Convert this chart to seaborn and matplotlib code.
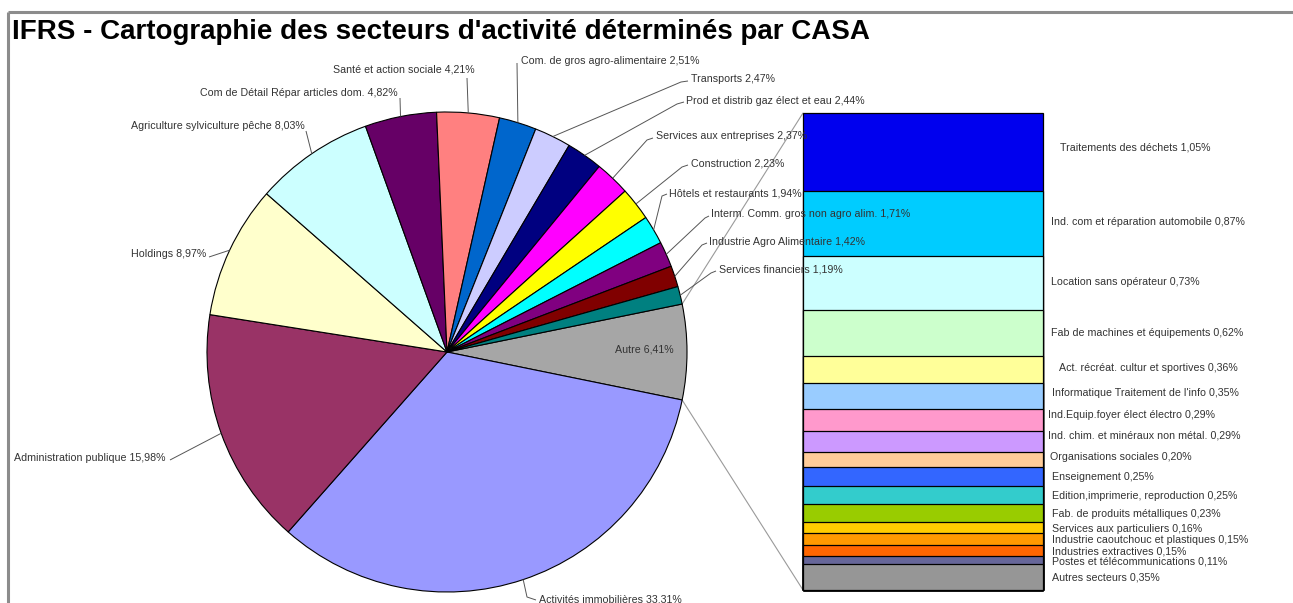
import matplotlib
matplotlib.use("Agg")
import numpy as np
import pandas as pd
import seaborn as sns
import matplotlib.pyplot as plt
from matplotlib.patches import ConnectionPatch

# ---------------- data ----------------
title = "IFRS - Cartographie des secteurs d'activité déterminés par CASA"

pie_sectors = ["Autre", "Activités immobilières", "Administration publique", "Holdings",
               "Agriculture sylviculture pêche", "Com de Détail Répar articles dom.",
               "Santé et action sociale", "Com. de gros agro-alimentaire", "Transports",
               "Prod et distrib gaz élect et eau", "Services aux entreprises", "Construction",
               "Hôtels et restaurants", "Interm. Comm. gros non agro alim.",
               "Industrie Agro Alimentaire", "Services financiers"]
pie_values = [6.41, 33.31, 15.98, 8.97, 8.03, 4.82, 4.21, 2.51, 2.47, 2.44, 2.37, 2.23,
              1.94, 1.71, 1.42, 1.19]
pie_colors = ["#A6A6A6", "#9999FF", "#993366", "#FFFFCC", "#CCFFFF", "#660066", "#FF8080",
              "#0066CC", "#CCCCFF", "#000080", "#FF00FF", "#FFFF00", "#00FFFF", "#800080",
              "#800000", "#008080"]

# detail bar (top to bottom)
bar_sectors = ["Traitements des déchets", "Ind. com et réparation automobile",
               "Location sans opérateur", "Fab de machines et équipements",
               "Act. récréat. cultur et sportives", "Informatique Traitement de l'info",
               "Ind.Equip.foyer élect électro", "Ind. chim. et minéraux non métal.",
               "Organisations sociales", "Enseignement", "Edition,imprimerie, reproduction",
               "Fab. de produits métalliques", "Services aux particuliers",
               "Industrie caoutchouc et plastiques", "Industries extractives",
               "Postes et télécommunications", "Autres secteurs"]
bar_values = [1.05, 0.87, 0.73, 0.62, 0.36, 0.35, 0.29, 0.29, 0.20, 0.25, 0.25, 0.23,
              0.16, 0.15, 0.15, 0.11, 0.35]
bar_colors = ["#0000EE", "#00CCFF", "#CCFFFF", "#CCFFCC", "#FFFF99", "#99CCFF", "#FF99CC",
              "#CC99FF", "#FFCC99", "#3366FF", "#33CCCC", "#99CC00", "#FFCC00", "#FF9900",
              "#FF6600", "#666699", "#969696"]

def pct(v):
    return f"{v:.2f}%".replace(".", ",")

# ---------------- layout (pixels, y from top) ----------------
W, H = 1293, 603
CX, CY, R = 447, 352, 240
BAR_L, BAR_R, BAR_T, BAR_B = 803, 1043, 113, 590

pie_label_pos = [(644, 350, "center"), (539, 600, "left"), (166, 458, "right"),
                 (206, 254, "right"), (305, 126, "right"), (398, 93, "right"),
                 (404, 69, "center"), (521, 61, "left"), (691, 79, "left"),
                 (686, 101, "left"), (656, 136, "left"), (691, 164, "left"),
                 (669, 193, "left"), (711, 214, "left"), (709, 242, "left"),
                 (719, 270, "left")]
pie_leaders = [[], [(527, 597), (536, 600)], [(170, 460)], [(209, 257)], [(306, 131)],
               [(400, 98)], [(467, 78)], [(517, 63)], [(681, 82), (688, 81)],
               [(677, 104), (684, 102)], [(647, 140), (653, 138)], [(682, 167), (688, 165)],
               [(662, 196), (667, 194)], [(705, 218), (709, 216)], [(702, 245), (707, 243)],
               [(711, 273), (716, 271)]]

bar_label_pos = [(1060, 147), (1051, 222), (1051, 282), (1051, 333), (1059, 368),
                 (1052, 393), (1048, 415), (1048, 436), (1050, 457), (1052, 477),
                 (1052, 496), (1052, 514), (1052, 529), (1052, 540), (1052, 551),
                 (1052, 561), (1052, 578)]

# ---------------- drawing ----------------
sns.set_theme(style="white")
plt.rcParams["font.family"] = ["Liberation Sans", "DejaVu Sans"]

fig = plt.figure(figsize=(W / 100, H / 100), dpi=100)
fig.patch.set_facecolor("white")

# detail bar axes (drawn underneath the text layer)
axb = fig.add_axes([BAR_L / W, (H - BAR_B) / H, (BAR_R - BAR_L) / W, (BAR_B - BAR_T) / H])
axb.set_zorder(1)

ax = fig.add_axes([0, 0, 1, 1])
ax.set_zorder(2)
ax.patch.set_alpha(0)

def Y(y):
    return H - y

start = pie_values[0] / sum(pie_values) * 180.0
wedges, _ = ax.pie(pie_values, colors=pie_colors, startangle=start, counterclock=False,
                   center=(CX, Y(CY)), radius=R,
                   wedgeprops=dict(edgecolor="black", linewidth=0.8))
ax.set_xlim(0, W)
ax.set_ylim(0, H)
ax.set_aspect("auto")
ax.axis("off")

lab_fs = 7.7
lab_col = "#333333"
for i, (name, v) in enumerate(zip(pie_sectors, pie_values)):
    w = wedges[i]
    mid = np.deg2rad((w.theta1 + w.theta2) / 2)
    px, py = CX + R * np.cos(mid), Y(CY) + R * np.sin(mid)
    tx, ty, ha = pie_label_pos[i]
    if pie_leaders[i]:
        pts = [(px, py)] + [(x, Y(y)) for x, y in pie_leaders[i]]
        xs, ys = zip(*pts)
        ax.plot(xs, ys, color="#555555", lw=0.7, solid_capstyle="butt")
    ax.text(tx, Y(ty), f"{name} {pct(v)}", fontsize=lab_fs, color=lab_col,
            ha=ha, va="center")

# stacked detail bar via seaborn, layered cumulative bars
vals_bottom_up = bar_values[::-1]
cols_bottom_up = bar_colors[::-1]
cum = np.cumsum(vals_bottom_up)
total = cum[-1]
for k in range(len(cum) - 1, -1, -1):
    df = pd.DataFrame({"pos": ["b"], "val": [cum[k]]})
    sns.barplot(data=df, x="pos", y="val", color=cols_bottom_up[k], saturation=1,
                width=1.0, edgecolor="black", linewidth=0.9, ax=axb)
for p in axb.patches:
    p.set_clip_on(False)
axb.set_xlim(-0.5, 0.5)
axb.set_ylim(0, total)
axb.axis("off")

for (name, v), (tx, ty) in zip(zip(bar_sectors, bar_values), bar_label_pos):
    ax.text(tx, Y(ty), f"{name} {pct(v)}", fontsize=lab_fs, color=lab_col,
            ha="left", va="center")

# connector lines from the "Autre" wedge to the detail bar
w0 = wedges[0]
for ang, by in [(w0.theta1, 0.0), (w0.theta2, total)]:
    a = np.deg2rad(ang)
    p0 = (CX + R * np.cos(a), Y(CY) + R * np.sin(a))
    con = ConnectionPatch(xyA=p0, coordsA=ax.transData, xyB=(-0.5, by),
                          coordsB=axb.transData, color="#9a9a9a", lw=0.8)
    fig.add_artist(con)

# outer frame and title
ax.plot([8, W], [Y(12), Y(12)], color="#8c8c8c", lw=2.2, solid_capstyle="butt")
ax.plot([8, 8], [Y(12), 0], color="#8c8c8c", lw=2.2, solid_capstyle="butt")
ax.text(12, Y(32), title, fontsize=20, fontweight="bold", color="black",
        ha="left", va="center")

fig.savefig("out.png", dpi=100, facecolor="white")
